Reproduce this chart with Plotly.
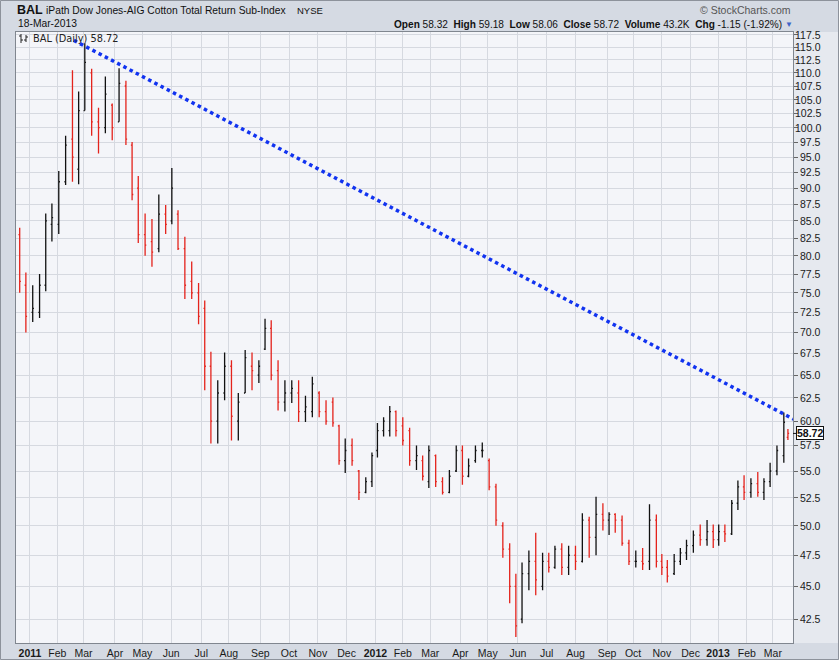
import numpy as np
import plotly.graph_objects as go

# ---------------- data (weekly OHLC) ----------------
week_start = [
    "2010-12-20", "2010-12-27", "2011-01-03", "2011-01-10", "2011-01-17", "2011-01-24",
    "2011-01-31", "2011-02-07", "2011-02-14", "2011-02-21", "2011-02-28", "2011-03-07",
    "2011-03-14", "2011-03-21", "2011-03-28", "2011-04-04", "2011-04-11", "2011-04-18",
    "2011-04-25", "2011-05-02", "2011-05-09", "2011-05-16", "2011-05-23", "2011-05-30",
    "2011-06-06", "2011-06-13", "2011-06-20", "2011-06-27", "2011-07-04", "2011-07-11",
    "2011-07-18", "2011-07-25", "2011-08-01", "2011-08-08", "2011-08-15", "2011-08-22",
    "2011-08-29", "2011-09-05", "2011-09-12", "2011-09-19", "2011-09-26", "2011-10-03",
    "2011-10-10", "2011-10-17", "2011-10-24", "2011-10-31", "2011-11-07", "2011-11-14",
    "2011-11-21", "2011-11-28", "2011-12-05", "2011-12-12", "2011-12-19", "2011-12-26",
    "2012-01-02", "2012-01-09", "2012-01-16", "2012-01-23", "2012-01-30", "2012-02-06",
    "2012-02-13", "2012-02-20", "2012-02-27", "2012-03-05", "2012-03-12", "2012-03-19",
    "2012-03-26", "2012-04-02", "2012-04-09", "2012-04-16", "2012-04-23", "2012-04-30",
    "2012-05-07", "2012-05-14", "2012-05-21", "2012-05-28", "2012-06-04", "2012-06-11",
    "2012-06-18", "2012-06-25", "2012-07-02", "2012-07-09", "2012-07-16", "2012-07-23",
    "2012-07-30", "2012-08-06", "2012-08-13", "2012-08-20", "2012-08-27", "2012-09-03",
    "2012-09-10", "2012-09-17", "2012-09-24", "2012-10-01", "2012-10-08", "2012-10-15",
    "2012-10-22", "2012-10-29", "2012-11-05", "2012-11-12", "2012-11-19", "2012-11-26",
    "2012-12-03", "2012-12-10", "2012-12-17", "2012-12-24", "2012-12-31", "2013-01-07",
    "2013-01-14", "2013-01-21", "2013-01-28", "2013-02-04", "2013-02-11", "2013-02-18",
    "2013-02-25", "2013-03-04", "2013-03-11", "2013-03-18",
]
wk_open = [
    83.0, 76.0, 72.5, 72.5, 76.0, 84.5, 84.5, 91.0, 98.0, 93.0, 103.0, 110.0,
    101.0, 100.0, 104.0, 101.0, 107.5, 97.0, 90.0, 83.0, 82.0, 81.0, 86.0, 85.0,
    86.0, 81.0, 76.5, 75.0, 73.0, 66.0, 60.0, 63.0, 66.0, 60.0, 63.0, 66.0,
    65.0, 68.0, 70.5, 65.5, 62.0, 63.0, 63.0, 61.0, 61.0, 63.0, 61.0, 62.0,
    59.5, 56.0, 57.5, 55.0, 53.0, 54.0, 57.0, 59.0, 59.0, 61.0, 59.5, 59.0,
    56.0, 56.0, 54.0, 56.5, 54.0, 53.0, 55.0, 57.0, 54.5, 56.0, 57.0, 56.0,
    53.5, 50.0, 48.0, 45.0, 42.5, 46.0, 47.0, 45.0, 47.0, 46.5, 48.0, 46.5,
    47.5, 47.0, 50.5, 49.0, 51.0, 50.5, 51.0, 50.5, 48.5, 47.0, 47.0, 47.0,
    50.5, 47.0, 46.5, 46.0, 47.0, 47.7, 48.3, 49.2, 48.8, 49.5, 48.8, 49.5,
    49.3, 52.0, 53.5, 53.0, 53.8, 53.0, 54.0, 55.0, 56.5, 58.32,
]
wk_high = [
    84.0, 77.7, 76.0, 77.5, 86.1, 87.6, 92.7, 98.6, 110.5, 106.5, 115.8, 110.8,
    103.5, 109.3, 104.3, 110.9, 108.5, 97.5, 91.9, 86.1, 85.3, 89.0, 87.4, 93.2,
    86.6, 82.7, 79.2, 76.3, 74.0, 67.7, 64.4, 67.6, 66.7, 63.0, 67.9, 67.6,
    66.7, 71.7, 71.5, 66.7, 64.4, 64.4, 64.4, 62.7, 64.8, 63.2, 62.2, 62.5,
    59.6, 58.2, 58.2, 55.1, 54.4, 56.8, 59.8, 60.4, 61.6, 61.1, 60.4, 59.3,
    57.5, 56.5, 57.5, 56.6, 54.4, 55.1, 57.5, 57.5, 56.2, 57.5, 57.8, 56.2,
    53.8, 50.3, 48.5, 46.0, 46.9, 47.9, 49.4, 47.7, 47.7, 48.3, 48.5, 48.3,
    48.3, 51.1, 50.8, 52.6, 52.0, 51.2, 51.1, 50.9, 48.8, 47.9, 48.1, 51.9,
    51.0, 47.6, 47.1, 47.6, 48.1, 48.8, 49.6, 50.1, 50.5, 50.1, 50.1, 50.1,
    52.3, 54.1, 54.6, 54.3, 54.9, 54.3, 55.8, 57.5, 60.9, 59.18,
]
wk_low = [
    75.0, 70.0, 71.3, 71.8, 75.2, 82.0, 83.1, 90.5, 91.0, 90.6, 103.0, 98.6,
    95.6, 99.0, 97.8, 101.0, 97.0, 88.1, 81.8, 80.0, 78.5, 80.5, 83.1, 84.5,
    80.8, 74.2, 74.2, 71.0, 63.3, 57.7, 57.7, 62.2, 58.0, 58.0, 63.0, 63.3,
    64.1, 67.9, 64.4, 61.1, 61.0, 61.9, 59.9, 59.9, 60.4, 60.4, 59.6, 59.4,
    55.6, 54.8, 55.5, 52.3, 52.9, 53.5, 56.3, 58.4, 58.4, 58.4, 57.5, 55.5,
    55.1, 54.1, 53.4, 53.5, 52.8, 52.9, 54.9, 53.7, 54.4, 55.8, 56.3, 53.2,
    50.0, 47.3, 43.7, 41.2, 42.2, 44.7, 44.3, 44.7, 46.1, 46.4, 45.9, 45.9,
    46.3, 46.9, 47.3, 47.5, 49.6, 49.2, 49.4, 48.3, 46.7, 46.5, 46.3, 46.3,
    46.5, 45.9, 45.3, 45.9, 46.7, 47.1, 47.7, 48.3, 48.3, 48.1, 48.3, 48.6,
    49.2, 51.4, 52.3, 52.5, 52.6, 52.3, 53.5, 54.6, 55.8, 58.06,
]
wk_close = [
    76.5, 72.0, 73.0, 76.0, 85.0, 85.5, 91.0, 97.0, 95.0, 103.0, 112.0, 101.0,
    100.0, 106.0, 100.0, 108.0, 98.0, 89.0, 83.0, 81.5, 80.5, 86.0, 84.5, 90.0,
    81.0, 76.0, 75.0, 72.0, 66.0, 60.0, 63.0, 66.0, 60.5, 62.0, 67.0, 65.5,
    66.0, 70.5, 65.0, 62.0, 63.0, 63.5, 61.0, 61.5, 64.0, 61.0, 60.0, 59.8,
    56.0, 57.0, 56.0, 53.0, 54.0, 56.5, 59.0, 60.0, 61.0, 59.0, 58.0, 56.0,
    56.5, 54.5, 57.0, 54.0, 53.0, 54.5, 57.0, 54.5, 55.5, 57.0, 57.0, 53.5,
    50.5, 48.0, 45.0, 42.0, 46.0, 47.0, 45.5, 47.0, 46.5, 48.0, 46.5, 47.5,
    47.0, 50.5, 49.0, 51.0, 50.5, 51.0, 50.5, 48.5, 47.0, 47.0, 46.8, 50.5,
    47.0, 46.5, 45.8, 47.0, 47.7, 48.3, 49.2, 48.8, 49.5, 48.8, 49.5, 49.3,
    52.0, 53.5, 53.0, 53.8, 53.0, 54.0, 55.0, 57.0, 59.87, 58.72,
]
last_date = "2013-03-18"

trend_dates = ["2011-02-17", "2013-03-22"]
trend_values = [116.4, 60.2]

y_tick_values = [42.5, 45.0, 47.5, 50.0, 52.5, 55.0, 57.5, 60.0, 62.5, 65.0, 67.5, 70.0,
                 72.5, 75.0, 77.5, 80.0, 82.5, 85.0, 87.5, 90.0, 92.5, 95.0, 97.5, 100.0,
                 102.5, 105.0, 107.5, 110.0, 112.5, 115.0, 117.5]

month_dates = ["2011-01-01", "2011-02-01", "2011-03-01", "2011-04-01", "2011-05-01",
               "2011-06-01", "2011-07-01", "2011-08-01", "2011-09-01", "2011-10-01",
               "2011-11-01", "2011-12-01", "2012-01-01", "2012-02-01", "2012-03-01",
               "2012-04-01", "2012-05-01", "2012-06-01", "2012-07-01", "2012-08-01",
               "2012-09-01", "2012-10-01", "2012-11-01", "2012-12-01", "2013-01-01",
               "2013-02-01", "2013-03-01"]
month_labels = ["<b>2011</b>", "Feb", "Mar", "Apr", "May", "Jun", "Jul", "Aug", "Sep", "Oct",
                "Nov", "Dec", "<b>2012</b>", "Feb", "Mar", "Apr", "May", "Jun", "Jul", "Aug",
                "Sep", "Oct", "Nov", "Dec", "<b>2013</b>", "Feb", "Mar"]

holidays = ["2010-12-24", "2011-01-17", "2011-02-21", "2011-04-22", "2011-05-30",
            "2011-07-04", "2011-09-05", "2011-11-24", "2011-12-26", "2012-01-02",
            "2012-01-16", "2012-02-20", "2012-04-06", "2012-05-28", "2012-07-04",
            "2012-09-03", "2012-10-29", "2012-10-30", "2012-11-22", "2012-12-25",
            "2013-01-01", "2013-01-21", "2013-02-18"]

# ---------------- trading-day x scale ----------------
HOL = np.array(holidays, dtype="datetime64[D]")
ORIGIN = np.datetime64("2011-01-03")


def tidx(d):
    d = np.datetime64(d, "D")
    if d >= ORIGIN:
        return float(np.busday_count(ORIGIN, d, holidays=HOL))
    return -float(np.busday_count(d, ORIGIN, holidays=HOL))


LAST = np.datetime64(last_date, "D")
wk_x = []
for ws in week_start:
    s = np.datetime64(ws, "D")
    days = [s + k for k in range(5)]
    days = [d for d in days if d <= LAST and np.is_busday(d, holidays=HOL)]
    wk_x.append(float(np.mean([tidx(d) for d in days])))

month_x = [tidx(np.busday_offset(np.datetime64(m), 0, roll="forward", holidays=HOL))
           for m in month_dates]
trend_x = [tidx(np.busday_offset(np.datetime64(d), 0, roll="forward", holidays=HOL))
           for d in trend_dates]

# ---------------- geometry ----------------
W, H = 839, 660
L, R, T, B = 16, 793, 32, 643
PW, PH = R - L, B - T


def px(x):
    return (x - L) / PW


def py(y):
    return (B - y) / PH


FONT = "Arial, Liberation Sans, sans-serif"
RED = "#e4231c"
BLK = "#111111"

# colour by close vs previous close (StockCharts style)
up_i, dn_i = [], []
for i in range(len(wk_close)):
    ref = wk_open[i] if i == 0 else wk_close[i - 1]
    (up_i if wk_close[i] >= ref else dn_i).append(i)

fig = go.Figure()
for idxs, col in ((up_i, BLK), (dn_i, RED)):
    fig.add_trace(go.Ohlc(
        x=[wk_x[i] for i in idxs],
        open=[wk_open[i] for i in idxs],
        high=[wk_high[i] for i in idxs],
        low=[wk_low[i] for i in idxs],
        close=[wk_close[i] for i in idxs],
        increasing=dict(line=dict(color=col, width=1.3)),
        decreasing=dict(line=dict(color=col, width=1.3)),
        tickwidth=0.22, hoverinfo="skip", showlegend=False,
    ))

fig.add_trace(go.Scatter(
    x=trend_x, y=trend_values, mode="lines",
    line=dict(color="#1133f0", width=3.5, dash="dot"),
    hoverinfo="skip", showlegend=False,
))

# x-range in trading-day units: plot edges
x0 = tidx("2010-12-20") - 1.2
x1 = tidx(last_date) + 3.7

fig.update_xaxes(
    range=[x0, x1], tickmode="array", tickvals=month_x, ticktext=month_labels,
    showgrid=True, gridcolor="#d6d9e0", gridwidth=1, ticks="",
    tickfont=dict(family=FONT, size=10.5, color="#1a1a1a"),
    showline=True, mirror=True, linecolor="#80868f", linewidth=1,
    zeroline=False, rangeslider=dict(visible=False), fixedrange=True, automargin=False,
)
fig.update_yaxes(
    type="log", range=[np.log10(40.77), np.log10(118.1)],
    tickmode="array", tickvals=y_tick_values, showticklabels=False,
    side="right", ticks="outside", ticklen=4, tickcolor="#666",
    showgrid=True, gridcolor="#d6d9e0", gridwidth=1,
    showline=True, mirror=True, linecolor="#80868f", linewidth=1,
    zeroline=False, fixedrange=True, automargin=False,
)

ann = []
# right-aligned y tick labels
for v in y_tick_values:
    ann.append(dict(xref="paper", yref="y", x=px(823), y=np.log10(v), xanchor="right",
                    yanchor="middle", text=f"{v:.1f}", showarrow=False,
                    font=dict(family=FONT, size=10.5, color="#1a1a1a")))

# header texts
ann += [
    dict(xref="paper", yref="paper", x=px(15), y=py(10), xanchor="left", yanchor="middle",
         text="<b>BAL</b>", showarrow=False, font=dict(family=FONT, size=12.5, color="#111")),
    dict(xref="paper", yref="paper", x=px(44), y=py(11), xanchor="left", yanchor="middle",
         text="iPath Dow Jones-AIG Cotton Total Return Sub-Index", showarrow=False,
         font=dict(family=FONT, size=10.3, color="#111")),
    dict(xref="paper", yref="paper", x=px(295), y=py(11), xanchor="left", yanchor="middle",
         text="NYSE", showarrow=False, font=dict(family=FONT, size=9.5, color="#111")),
    dict(xref="paper", yref="paper", x=px(16), y=py(23.5), xanchor="left", yanchor="middle",
         text="18-Mar-2013", showarrow=False, font=dict(family=FONT, size=10.3, color="#111")),
    dict(xref="paper", yref="paper", x=px(793), y=py(10), xanchor="right", yanchor="middle",
         text="© StockCharts.com", showarrow=False, font=dict(family=FONT, size=10.5, color="#555")),
    dict(xref="paper", yref="paper", x=px(784), y=py(24), xanchor="right", yanchor="middle",
         text="<b>Open</b> 58.32&nbsp;&nbsp;<b>High</b> 59.18&nbsp;&nbsp;<b>Low</b> 58.06&nbsp;&nbsp;"
              "<b>Close</b> 58.72&nbsp;&nbsp;<b>Volume</b> 43.2K&nbsp;&nbsp;<b>Chg</b> -1.15 (-1.92%)",
         showarrow=False, font=dict(family=FONT, size=10.1, color="#111")),
    dict(xref="paper", yref="paper", x=px(789), y=py(24.5), xanchor="center", yanchor="middle",
         text="▼", showarrow=False, font=dict(family=FONT, size=8, color="#3f63c8")),
    dict(xref="paper", yref="paper", x=px(31), y=py(38.5), xanchor="left", yanchor="middle",
         text="BAL (Daily) 58.72", showarrow=False,
         font=dict(family="DejaVu Sans, sans-serif", size=9.8, color="#222")),
    # last price tag
    dict(xref="paper", yref="y", x=1.0, y=np.log10(wk_close[-1]), ax=17, ay=0,
         text="<b>58.72</b>", showarrow=True, arrowhead=0, arrowwidth=1, arrowcolor="#111",
         bgcolor="#ffffff", bordercolor="#111", borderwidth=1, borderpad=0,
         font=dict(family=FONT, size=10.5, color="#111")),
]

shapes = [
    # outer frame
    dict(type="rect", xref="paper", yref="paper", x0=px(0.5), x1=px(W - 0.5),
         y0=py(H - 0.5), y1=py(0.5), line=dict(color="#8d929b", width=1), layer="below"),
    # lighter right axis strip
    dict(type="rect", xref="paper", yref="paper", x0=px(R), x1=px(W - 1),
         y0=py(B), y1=py(T), fillcolor="#e6e9ef", line=dict(width=0), layer="below"),
    # small OHLC icon in the label
    dict(type="line", xref="paper", yref="paper", x0=px(21), x1=px(21), y0=py(43), y1=py(34),
         line=dict(color="#222", width=1)),
    dict(type="line", xref="paper", yref="paper", x0=px(19), x1=px(21), y0=py(36), y1=py(36),
         line=dict(color="#222", width=1)),
    dict(type="line", xref="paper", yref="paper", x0=px(21), x1=px(23), y0=py(40), y1=py(40),
         line=dict(color="#222", width=1)),
    dict(type="line", xref="paper", yref="paper", x0=px(26), x1=px(26), y0=py(42), y1=py(35),
         line=dict(color="#222", width=1)),
    dict(type="line", xref="paper", yref="paper", x0=px(24), x1=px(26), y0=py(40), y1=py(40),
         line=dict(color="#222", width=1)),
    dict(type="line", xref="paper", yref="paper", x0=px(26), x1=px(28), y0=py(37), y1=py(37),
         line=dict(color="#222", width=1)),
]

fig.update_layout(
    width=W, height=H, margin=dict(l=L, r=W - R, t=T, b=H - B, pad=0, autoexpand=False),
    paper_bgcolor="#d5dae3", plot_bgcolor="#f4f5f9",
    annotations=ann, shapes=shapes, showlegend=False,
    font=dict(family=FONT),
)

fig.write_html("out.html")
